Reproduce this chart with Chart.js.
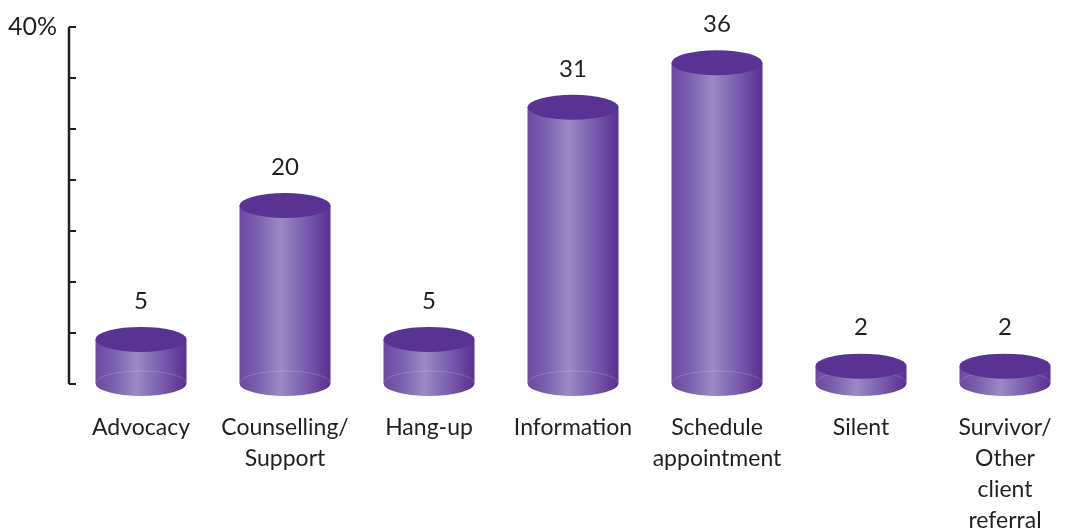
<!DOCTYPE html>
<html>
<head>
<meta charset="utf-8">
<script src="https://cdn.jsdelivr.net/npm/chart.js@4/dist/chart.umd.min.js"></script>
<style>
  html, body { margin: 0; padding: 0; background: #fff; }
  #wrap { width: 1077px; height: 531px; }
</style>
</head>
<body>
<div id="wrap"><canvas id="mainCanvas"></canvas></div>
<script>
const categories = [
    ["Advocacy"],
    ["Counselling/", "Support"],
    ["Hang-up"],
    ["Information"],
    ["Schedule", "appointment"],
    ["Silent"],
    ["Survivor/", "Other", "client", "referral"]
];
const values = [5, 20, 5, 31, 36, 2, 2];
const yMax = 40;
const yTickSteps = 7;
const yTopLabel = "40%";

const textColor = "#231f20";
const fontFamily = "Lato, 'Open Sans', sans-serif";

// draws the bars as cylinders, plus the value on top
const cylinderPlugin = {
    id: 'cylinders',
    afterDatasetsDraw(chart) {
        const ctx = chart.ctx;
        const meta = chart.getDatasetMeta(0);
        meta.data.forEach((bar, i) => {
            const p = bar.getProps(['x', 'y', 'base', 'width'], true);
            const rx = p.width / 2, ry = 12.5;
            const x = p.x, top = p.y, base = p.base;
            ctx.save();
            const g = ctx.createLinearGradient(x - rx, 0, x + rx, 0);
            g.addColorStop(0, '#6a4aa2');
            g.addColorStop(0.2, '#7b5fb0');
            g.addColorStop(0.45, '#9c89c5');
            g.addColorStop(0.7, '#7c61b1');
            g.addColorStop(1, '#57318f');
            ctx.beginPath();
            ctx.moveTo(x - rx, top);
            ctx.lineTo(x - rx, base);
            ctx.ellipse(x, base, rx, ry, 0, Math.PI, 0, true);
            ctx.lineTo(x + rx, top);
            ctx.closePath();
            ctx.fillStyle = g;
            ctx.fill();
            // faint back edge of the bottom
            ctx.beginPath();
            ctx.ellipse(x, base, rx, ry, 0, Math.PI, 0, false);
            ctx.strokeStyle = 'rgba(255,255,255,0.18)';
            ctx.lineWidth = 1;
            ctx.stroke();
            // top
            ctx.beginPath();
            ctx.ellipse(x, top, rx, ry, 0, 0, Math.PI * 2);
            ctx.fillStyle = '#583393';
            ctx.fill();
            // value
            ctx.fillStyle = textColor;
            ctx.font = "24px " + fontFamily;
            ctx.textAlign = 'center';
            ctx.textBaseline = 'middle';
            ctx.fillText(String(values[i]), x, top - ry - 26);
            ctx.restore();
        });
    }
};

// y axis line with inward ticks
const axisPlugin = {
    id: 'axisLine',
    afterDraw(chart) {
        const ctx = chart.ctx;
        const y = chart.scales.y;
        const x0 = chart.chartArea.left;
        ctx.save();
        ctx.strokeStyle = textColor;
        ctx.lineWidth = 2.5;
        ctx.beginPath();
        ctx.moveTo(x0, y.getPixelForValue(0));
        ctx.lineTo(x0, y.getPixelForValue(yMax));
        ctx.stroke();
        ctx.lineWidth = 2;
        y.ticks.forEach(t => {
            const py = y.getPixelForValue(t.value);
            ctx.beginPath();
            ctx.moveTo(x0, py);
            ctx.lineTo(x0 + 7, py);
            ctx.stroke();
        });
        ctx.restore();
    }
};

new Chart(document.getElementById('mainCanvas'), {
    type: 'bar',
    data: {
        labels: categories,
        datasets: [{
            data: values,
            backgroundColor: 'rgba(0,0,0,0)',
            barThickness: 91
        }]
    },
    options: {
        responsive: true,
        maintainAspectRatio: false,
        animation: false,
        layout: { padding: { top: 23, right: 0, left: 0, bottom: 0 } },
        plugins: {
            legend: { display: false },
            tooltip: { enabled: false }
        },
        scales: {
            x: {
                grid: { display: false },
                border: { display: false },
                afterFit(scale) { scale.height = 147; },
                ticks: {
                    color: textColor,
                    font: { family: fontFamily, size: 23, lineHeight: '31px' },
                    padding: 20,
                    maxRotation: 0,
                    autoSkip: false
                }
            },
            y: {
                min: 0,
                max: yMax,
                grid: { drawOnChartArea: false, drawTicks: false },
                border: { display: false },
                afterBuildTicks(scale) {
                    const t = [];
                    for (let i = 0; i <= yTickSteps; i++) t.push({ value: yMax * i / yTickSteps });
                    scale.ticks = t;
                },
                afterFit(scale) { scale.width = 69; },
                ticks: {
                    color: textColor,
                    font: { family: fontFamily, size: 25 },
                    padding: 12,
                    callback: (v) => (Math.abs(v - yMax) < 0.001 ? yTopLabel : '')
                }
            }
        }
    },
    plugins: [cylinderPlugin, axisPlugin]
});
</script>
</body>
</html>
